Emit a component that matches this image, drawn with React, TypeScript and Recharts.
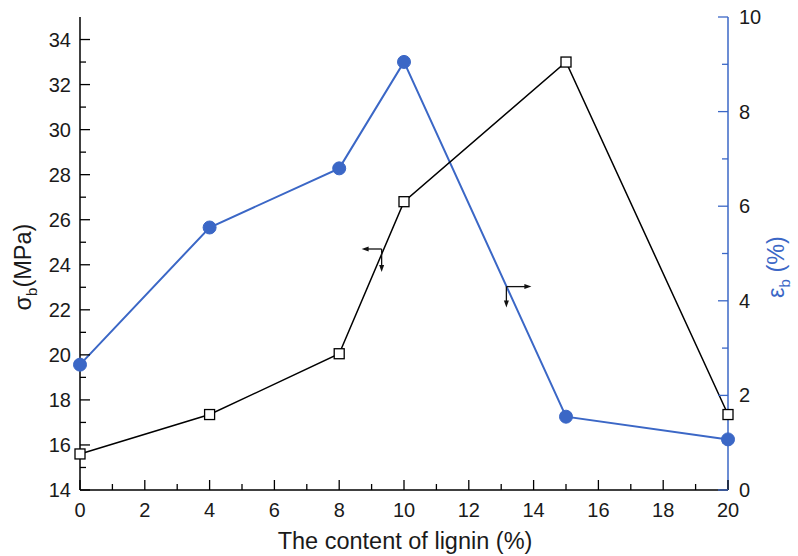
import React from 'react';
import { LineChart, Line, XAxis, YAxis, ReferenceDot } from 'recharts';

const ligninContent = [0, 4, 8, 10, 15, 20];
const sigmaB = [15.6, 17.35, 20.05, 26.8, 33.0, 17.35];
const epsB = [2.65, 5.55, 6.8, 9.05, 1.55, 1.07];

const xTicks = Array.from({ length: 21 }, (_, i) => i);
const leftTicks = Array.from({ length: 21 }, (_, i) => 14 + i);
const rightTicks = Array.from({ length: 11 }, (_, i) => i);

const data = ligninContent.map((x, i) => ({ x, sigma: sigmaB[i], eps: epsB[i] }));

const BLUE = '#3b67c6';
const FONT = 'Arial, "Liberation Sans", sans-serif';
const TICK_FS = 20;
const TITLE_FS = 23.5;

const BottomTick = (props: any) => {
  const { x, y, payload } = props;
  const v = payload.value;
  const major = v % 2 === 0;
  return (
    <g>
      <line x1={x} x2={x} y1={y} y2={y - (major ? 10 : 6)} stroke="#000" strokeWidth={1.3} />
      {major && (
        <text x={x} y={y + 27} textAnchor="middle" fontSize={TICK_FS} fontFamily={FONT} fill="#1a1a1a">
          {v}
        </text>
      )}
    </g>
  );
};

const TopTick = (props: any) => {
  const { x, y, payload } = props;
  const major = payload.value % 2 === 0;
  return <line x1={x} x2={x} y1={y} y2={y + (major ? 10 : 6)} stroke="#000" strokeWidth={1.3} />;
};

const LeftTick = (props: any) => {
  const { x, y, payload } = props;
  const v = payload.value;
  const major = v % 2 === 0;
  return (
    <g>
      <line x1={x} x2={x + (major ? 10 : 6)} y1={y} y2={y} stroke="#000" strokeWidth={1.3} />
      {major && (
        <text x={x - 9} y={y + 7} textAnchor="end" fontSize={TICK_FS} fontFamily={FONT} fill="#1a1a1a">
          {v}
        </text>
      )}
    </g>
  );
};

const RightTick = (props: any) => {
  const { x, y, payload } = props;
  const v = payload.value;
  const major = v % 2 === 0;
  return (
    <g>
      <line x1={x} x2={x - (major ? 10 : 6)} y1={y} y2={y} stroke={BLUE} strokeWidth={1.3} />
      {major && (
        <text x={x + 11} y={y + 7} textAnchor="start" fontSize={TICK_FS} fontFamily={FONT} fill="#1a1a1a">
          {v}
        </text>
      )}
    </g>
  );
};

const SquareDot = (props: any) => {
  const { cx, cy, index } = props;
  if (cx == null || cy == null) return null;
  return <rect key={`sq-${index}`} x={cx - 5} y={cy - 5} width={10} height={10} fill="#fff" stroke="#000" strokeWidth={1.3} />;
};

const CircleDot = (props: any) => {
  const { cx, cy, index } = props;
  if (cx == null || cy == null) return null;
  return <circle key={`c-${index}`} cx={cx} cy={cy} r={6.5} fill={BLUE} stroke={BLUE} />;
};

const arrowShape = (dirX: number, lenX: number, lenY: number) => (props: any) => {
  const { cx, cy } = props;
  const hx = cx + dirX * lenX;
  const hy = cy + lenY;
  return (
    <g>
      <line x1={cx} y1={cy} x2={hx - dirX * 4} y2={cy} stroke="#111" strokeWidth={1.3} />
      <polygon points={`${hx},${cy} ${hx - dirX * 7},${cy - 2.5} ${hx - dirX * 7},${cy + 2.5}`} fill="#111" />
      <line x1={cx} y1={cy} x2={cx} y2={hy - 4} stroke="#111" strokeWidth={1.3} />
      <polygon points={`${cx},${hy} ${cx - 2.5},${hy - 7} ${cx + 2.5},${hy - 7}`} fill="#111" />
    </g>
  );
};

const LeftTitle = () => (
  <text transform="translate(31,267) rotate(-90)" textAnchor="middle" fontSize={TITLE_FS} fontFamily={FONT} fill="#1a1a1a">
    σ<tspan fontSize={15} dy={6}>b</tspan>
    <tspan dy={-6}>(MPa)</tspan>
  </text>
);

const RightTitle = () => (
  <text transform="translate(784,267) rotate(-90)" textAnchor="middle" fontSize={TITLE_FS} fontFamily={FONT} fill={BLUE}>
    ε<tspan fontSize={15} dy={6}>b</tspan>
    <tspan dy={-6}> (%)</tspan>
  </text>
);

export default function App() {
  return (
    <div style={{ position: 'absolute', left: 0, top: 0, width: 798, height: 556, background: '#fff' }}>
      <LineChart width={798} height={556} data={data} margin={{ top: 17, right: 0, bottom: 0, left: 0 }}>
        <XAxis
          xAxisId="bottom"
          dataKey="x"
          type="number"
          domain={[0, 20]}
          ticks={xTicks}
          interval={0}
          height={66}
          tickSize={0}
          tickMargin={0}
          tickLine={false}
          axisLine={{ stroke: '#000', strokeWidth: 1.5 }}
          tick={<BottomTick />}
          label={{
            content: () => (
              <text x={405} y={549} textAnchor="middle" fontSize={TITLE_FS} fontFamily={FONT} fill="#1a1a1a">
                The content of lignin (%)
              </text>
            ),
          }}
        />
        <XAxis
          xAxisId="top"
          orientation="top"
          dataKey="x"
          type="number"
          domain={[0, 20]}
          ticks={xTicks}
          interval={0}
          height={0}
          tickSize={0}
          tickMargin={0}
          tickLine={false}
          axisLine={{ stroke: '#000', strokeWidth: 1.5 }}
          tick={<TopTick />}
        />
        <YAxis
          yAxisId="left"
          type="number"
          domain={[14, 35]}
          ticks={leftTicks}
          interval={0}
          width={80}
          tickSize={0}
          tickMargin={0}
          tickLine={false}
          axisLine={{ stroke: '#000', strokeWidth: 1.5 }}
          tick={<LeftTick />}
          label={{ content: () => <LeftTitle /> }}
        />
        <YAxis
          yAxisId="right"
          orientation="right"
          type="number"
          domain={[0, 10]}
          ticks={rightTicks}
          interval={0}
          width={70}
          tickSize={0}
          tickMargin={0}
          tickLine={false}
          axisLine={{ stroke: BLUE, strokeWidth: 1.5 }}
          tick={<RightTick />}
          label={{ content: () => <RightTitle /> }}
        />
        <Line
          xAxisId="bottom"
          yAxisId="right"
          dataKey="eps"
          stroke={BLUE}
          strokeWidth={2}
          dot={<CircleDot />}
          activeDot={false}
          isAnimationActive={false}
        />
        <Line
          xAxisId="bottom"
          yAxisId="left"
          dataKey="sigma"
          stroke="#000"
          strokeWidth={1.5}
          dot={<SquareDot />}
          activeDot={false}
          isAnimationActive={false}
        />
        <ReferenceDot xAxisId="bottom" yAxisId="left" x={9.31} y={24.7} ifOverflow="visible" shape={arrowShape(-1, 20, 23)} />
        <ReferenceDot xAxisId="bottom" yAxisId="right" x={13.16} y={4.3} ifOverflow="visible" shape={arrowShape(1, 25, 21)} />
      </LineChart>
    </div>
  );
}
